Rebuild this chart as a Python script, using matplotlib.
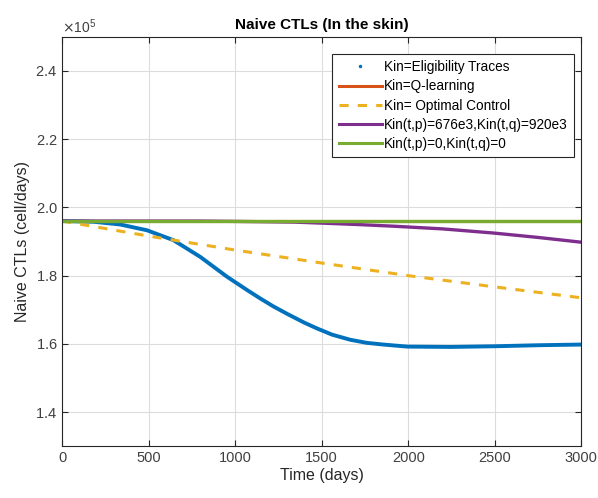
import numpy as np
import matplotlib
matplotlib.use("Agg")
import matplotlib.pyplot as plt
from matplotlib.lines import Line2D
from matplotlib.ticker import ScalarFormatter

plt.rcParams["font.family"] = ["Liberation Sans", "DejaVu Sans"]

# ── Data (units of 1e5 cells) ─────────────────────────────────────────────────
t_elig = [0, 180, 335, 490, 643, 798, 952, 1068, 1145, 1220, 1300, 1400, 1474, 1560,
          1665, 1760, 1856, 1994, 2243, 2500, 2750, 3000]
y_elig = [1.960, 1.958, 1.950, 1.933, 1.904, 1.855, 1.797, 1.758, 1.733, 1.710, 1.688,
          1.662, 1.645, 1.627, 1.612, 1.603, 1.598, 1.592, 1.591, 1.593, 1.596, 1.598]

t_ql = [0, 3000]
y_ql = [1.960, 1.960]

t_opt = [0, 500, 1000, 1500, 2000, 2500, 3000]
y_opt = [1.960, 1.916, 1.875, 1.837, 1.800, 1.767, 1.735]

t_kin = [0, 800, 1000, 1337, 1500, 1700, 1913, 2200, 2491, 2750, 3000]
y_kin = [1.960, 1.960, 1.959, 1.957, 1.954, 1.950, 1.945, 1.937, 1.925, 1.912, 1.898]

t_zero = [0, 3000]
y_zero = [1.960, 1.960]

labels = ["Kin=Eligibility Traces", "Kin=Q-learning", "Kin= Optimal Control",
          "Kin(t,p)=676e3,Kin(t,q)=920e3", "Kin(t,p)=0,Kin(t,q)=0"]
colors = ["#0072BD", "#D95319", "#EDB120", "#7E2F8E", "#77AC30"]

scale = 1e5

fig = plt.figure(figsize=(5.98, 4.98), dpi=100)
ax = fig.add_axes([0.104, 0.104, 0.868, 0.822])

ax.plot(t_elig, np.array(y_elig) * scale, color=colors[0], lw=2.8, solid_capstyle="round")
ax.plot(t_ql, np.array(y_ql) * scale, color=colors[1], lw=2.2)
ax.plot(t_opt, np.array(y_opt) * scale, color=colors[2], lw=2.2, dashes=(3, 3))
ax.plot(t_kin, np.array(y_kin) * scale, color=colors[3], lw=2.4)
ax.plot(t_zero, np.array(y_zero) * scale, color=colors[4], lw=2.4)

ax.set_xlim(0, 3000)
ax.set_ylim(1.3e5, 2.5e5)
ax.set_xticks(np.arange(0, 3001, 500))
ax.set_yticks(np.arange(1.4e5, 2.41e5, 0.2e5))

fmt = ScalarFormatter(useMathText=True)
fmt.set_powerlimits((5, 5))
ax.yaxis.set_major_formatter(fmt)
ax.yaxis.get_offset_text().set_fontsize(10)
ax.yaxis.get_offset_text().set_color("#404040")

ax.grid(True, color="#dcdcdc", lw=0.8)
ax.tick_params(direction="in", top=True, right=True, labelsize=10.5,
               colors="#262626", labelcolor="#404040", length=4)
for s in ax.spines.values():
    s.set_color("#262626")

ax.set_title("Naive CTLs (In the skin)", fontsize=11, fontweight="bold")
ax.set_xlabel("Time (days)", fontsize=11.5, labelpad=2, color="#262626")
ax.set_ylabel("Naive CTLs (cell/days)", fontsize=11.5, color="#262626")

handles = [
    Line2D([], [], color=colors[0], marker=".", ls="none", markersize=3),
    Line2D([], [], color=colors[1], lw=2.2),
    Line2D([], [], color=colors[2], lw=2.2, dashes=(3, 3)),
    Line2D([], [], color=colors[3], lw=2.2),
    Line2D([], [], color=colors[4], lw=2.2),
]
leg = ax.legend(handles, labels, loc="upper right", bbox_to_anchor=(0.986, 0.958),
                fontsize=9.8, handlelength=3.2, handletextpad=0.15, labelspacing=0.38,
                fancybox=False, framealpha=1, borderpad=0.45, borderaxespad=0)
leg.get_frame().set_edgecolor("#262626")
leg.get_frame().set_linewidth(0.8)

fig.savefig("out.png", dpi=100)
